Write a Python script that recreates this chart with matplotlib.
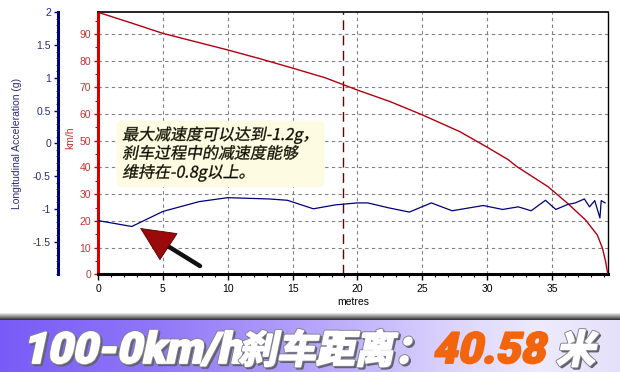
import numpy as np
import matplotlib
matplotlib.use('Agg')
import matplotlib.pyplot as plt
import matplotlib.patheffects as pe
from matplotlib.transforms import Affine2D
from matplotlib.colors import to_rgba
from matplotlib.ticker import MultipleLocator

# -- data ----------------------------------------------------------------------
dist_speed = [0, 2.5, 5, 7.5, 10, 12.5, 15, 17.5, 19.4, 20.1, 22.5, 25, 27.9, 30,
              31.6, 32.3, 34.7, 36.2, 37.6, 38.5, 38.9, 39.15, 39.3]
speed_kmh = [98.1, 94.2, 90.2, 87.1, 84.0, 80.7, 77.2, 73.6, 70.1, 68.8, 64.7, 59.7,
             53.4, 47.6, 43.0, 40.3, 32.8, 26.6, 20.3, 14.7, 9.7, 4.5, 0.3]

dist_accel = [0, 2.6, 5.0, 7.8, 10.0, 13.2, 14.6, 16.6, 18.3, 20.0, 20.8, 22.4,
              24.0, 25.7, 27.3, 29.7, 31.2, 32.4, 33.4, 34.5, 35.3, 36.2, 36.8,
              37.5, 37.9, 38.3, 38.7, 38.8, 39.1]
accel_g = [-1.18, -1.27, -1.04, -0.89, -0.83, -0.85, -0.87, -1.00, -0.94, -0.91,
           -0.91, -0.985, -1.05, -0.91, -1.03, -0.95, -1.01, -0.97, -1.03, -0.87,
           -1.01, -0.935, -0.91, -0.85, -0.97, -0.875, -1.14, -0.875, -0.91]

marker_dist = 18.9
x_ticks = [0, 5, 10, 15, 20, 25, 30, 35]
kmh_ticks = [0, 10, 20, 30, 40, 50, 60, 70, 80, 90]
g_ticks = [2, 1.5, 1, 0.5, 0, -0.5, -1, -1.5]
g_labels = ['2', '1.5', '1', '0.5', '0', '-0.5', '-1', '-1.5']

note_text = '最大减速度可以达到-1.2g，\n刹车过程中的减速度能够\n维持在-0.8g以上。'
banner_parts = [('100-0km/h', 'white'), ('刹车距离：', 'white'),
                ('40.58', '#f2650c'), ('米', 'white')]

# -- style ---------------------------------------------------------------------
W, H = 620, 372
RED = '#d40000'
RED_TXT = '#c03535'
NAVY = '#00007a'
NAVY_TXT = '#2a2a80'
TICK_FONT = ['Liberation Sans', 'DejaVu Sans']
CJK = ['Noto Sans CJK SC', 'DejaVu Sans']
LATIN_HEAVY = ['Roboto', 'Noto Sans CJK SC', 'DejaVu Sans']


class Slant(pe.AbstractPathEffect):
    """Draws text slanted (fake italic), optionally shifted / stroked / recoloured."""

    def __init__(self, deg=12, offset=(0, 0), face=None, edge=None, lw=0.0):
        super().__init__(offset)
        self.deg = deg
        self.face = face
        self.edge = edge
        self.lw = lw

    def draw_path(self, renderer, gc, tpath, affine, rgbFace=None):
        gc0 = renderer.new_gc()
        gc0.copy_properties(gc)
        if self.edge is not None:
            gc0.set_foreground(self.edge)
            gc0.set_linewidth(self.lw)
            gc0.set_joinstyle('round')
        else:
            gc0.set_linewidth(0)
        face = to_rgba(self.face) if self.face is not None else rgbFace
        tr = Affine2D().skew_deg(self.deg, 0) + affine + self._offset_transform(renderer)
        renderer.draw_path(gc0, tpath, tr, face)
        gc0.restore()


fig = plt.figure(figsize=(W / 100, H / 100), dpi=100)
fig.patch.set_facecolor('white')

# plot area in pixels: x 98..608, y 12..274
left, right, top, bottom = 98.1, 607.7, 12.3, 274.3
ax = fig.add_axes([left / W, 1 - bottom / H, (right - left) / W, (bottom - top) / H])

ax.plot(dist_speed, speed_kmh, color='#b00010', lw=1.0, zorder=3)
ax.axvline(marker_dist, color='#6a0000', lw=1.0, dashes=(7, 4), zorder=2)

ax.set_xlim(0, 39.3)
ax.set_ylim(0, 98.1)
ax.set_xticks(x_ticks)
ax.set_yticks(kmh_ticks)
ax.xaxis.set_minor_locator(MultipleLocator(1))
ax.yaxis.set_minor_locator(MultipleLocator(5))
ax.grid(True, which='major', color='#808080', lw=0.8, dashes=(3, 3))

ax.tick_params(axis='x', which='major', length=4, width=1, pad=3, labelsize=7.5,
               colors='black')
ax.tick_params(axis='x', which='minor', length=2, width=0.8)
ax.tick_params(axis='y', which='major', length=3, width=1, pad=2, labelsize=7.5,
               colors=RED, labelcolor=RED_TXT)
ax.tick_params(axis='y', which='minor', length=2, width=0.8, colors=RED)
for lab in ax.get_xticklabels() + ax.get_yticklabels():
    lab.set_family(TICK_FONT)

ax.spines['left'].set_color(RED)
ax.spines['left'].set_linewidth(2.2)
ax.spines['bottom'].set_linewidth(2.2)
ax.spines['top'].set_linewidth(1.2)
ax.spines['right'].set_linewidth(1.0)

ax.set_xlabel('metres', fontsize=7.5, family=TICK_FONT, labelpad=2)
ax.set_ylabel('km/h', fontsize=7.5, family=TICK_FONT, color=RED_TXT)
ax.yaxis.set_label_coords(-0.045, 0.52)

# acceleration axis on an offset left spine
ax2 = ax.twinx()
ax2.plot(dist_accel, accel_g, color=NAVY, lw=0.9, zorder=3)
ax2.set_ylim(-2, 2)
ax2.set_yticks(g_ticks)
ax2.set_yticklabels(g_labels)
ax2.yaxis.set_minor_locator(MultipleLocator(0.1))
ax2.spines['left'].set_position(('outward', 29))
ax2.spines['left'].set_visible(True)
ax2.spines['left'].set_color(NAVY)
ax2.spines['left'].set_linewidth(2.2)
for s in ['right', 'top', 'bottom']:
    ax2.spines[s].set_visible(False)
ax2.yaxis.set_ticks_position('left')
ax2.yaxis.set_label_position('left')
ax2.tick_params(axis='y', which='major', length=3, width=1, pad=2, labelsize=7.5,
                colors=NAVY, labelcolor=NAVY_TXT)
ax2.tick_params(axis='y', which='minor', length=1.5, width=0.6, colors=NAVY)
for lab in ax2.get_yticklabels():
    lab.set_family(TICK_FONT)
ax2.set_ylabel('Longitudinal Acceleration (g)', fontsize=7.5, family=TICK_FONT,
               color=NAVY_TXT)
ax2.yaxis.set_label_coords(-0.149, 0.5)

# callout text with a pale glow behind it
note = ax2.text(0.047, 0.565, note_text, transform=ax2.transAxes, ha='left', va='top',
                fontsize=11.5, family=CJK, color='black', linespacing=1.12, zorder=5,
                bbox=dict(boxstyle='round,pad=0.35', fc='#fdfbe2', ec='none'))
note.set_path_effects([Slant(11, edge='#3a3a20', lw=0.3)])

# arrow: black shaft, dark red head (pixel positions converted to data)
def px_to_data(px, py):
    return ((px - left) / (right - left) * 39.3, (bottom - py) / (bottom - top) * 98.1)

tip = px_to_data(140, 228)
base = px_to_data(166, 245)
tail = px_to_data(200, 266)
ax.annotate('', xy=base, xytext=tail, zorder=6,
            arrowprops=dict(arrowstyle='-', color='#111111', lw=3.2,
                            shrinkA=0, shrinkB=0))
ax.annotate('', xy=tip, xytext=base, zorder=7,
            arrowprops=dict(arrowstyle='-|>,head_length=1.7,head_width=0.8',
                            fc='#9a0a0a', ec='#5a0000', lw=0.6,
                            mutation_scale=14, shrinkA=0, shrinkB=0))

# -- bottom banner ---------------------------------------------------------------
band_top = 310
bx = fig.add_axes([0, 0, 1, (H - band_top) / H])
bx.set_axis_off()
rows = H - band_top
img = np.ones((rows, W, 3))
xs = np.arange(W)
stops_x = [0, 150, 300, 450, 540, 620]
stops_c = np.array([[0.47, 0.36, 0.97], [0.56, 0.46, 0.97], [0.70, 0.63, 0.98],
                    [0.86, 0.83, 0.99], [0.93, 0.92, 0.99], [0.90, 0.88, 0.98]])
grad = np.stack([np.interp(xs, stops_x, stops_c[:, k]) for k in range(3)], axis=1)
for r in range(rows):
    y = band_top + r
    if y < 312:
        continue
    if y < 320:
        t = (y - 312) / 7.0
        img[r] = 1 - t * (1 - 0.22)
    else:
        img[r] = grad
bx.imshow(img, extent=(0, W, 0, rows), aspect='auto', interpolation='bilinear')
bx.set_xlim(0, W)
bx.set_ylim(0, rows)

text_x = [22, 238, 432, 556]
text_fam = [LATIN_HEAVY, CJK, LATIN_HEAVY, CJK]
text_size = [31, 28, 31, 28]
baseline = rows - (363 - band_top)
for (s, col), x0, fam, fs in zip(banner_parts, text_x, text_fam, text_size):
    t = bx.text(x0, baseline, s, ha='left', va='baseline', fontsize=fs,
                family=fam, weight='black', color=col)
    if col == 'white':
        # grey drop shadow, grey rim, then a fattened white face
        t.set_path_effects([Slant(12, offset=(1.3, -1.3), face='#606070',
                                  edge='#606070', lw=2.0),
                            Slant(12, edge='#80808e', lw=2.6),
                            Slant(12, edge='white', lw=1.3)])
    else:
        t.set_path_effects([Slant(12, edge=col, lw=1.4)])

fig.savefig('out.png', dpi=100, facecolor='white')
